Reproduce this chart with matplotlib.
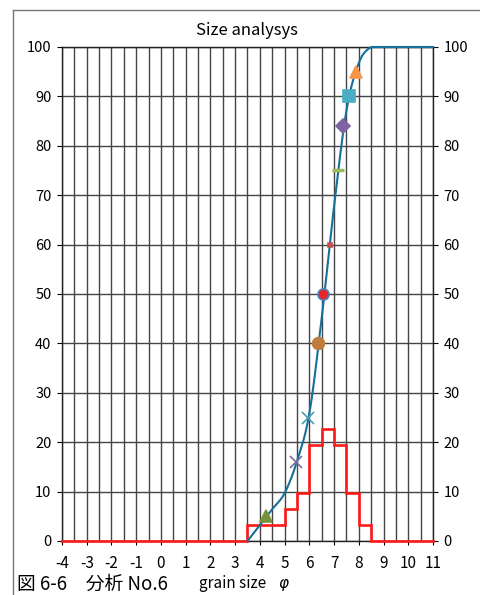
import numpy as np
import matplotlib
matplotlib.use("Agg")
import matplotlib.pyplot as plt
from matplotlib.lines import Line2D

plt.rcParams['font.family'] = ['Noto Sans CJK JP', 'DejaVu Sans']
plt.rcParams['axes.unicode_minus'] = False

# histogram (% per 0.5 phi bin), bins starting at these left edges
bin_left = [3.5, 4.0, 4.5, 5.0, 5.5, 6.0, 6.5, 7.0, 7.5, 8.0]
bin_pct = [3.23, 3.23, 3.23, 6.45, 9.68, 19.35, 22.58, 19.35, 9.68, 3.23]

# cumulative curve points
cum_x = [3.5, 4.0, 4.5, 5.0, 5.5, 6.0, 6.5, 7.0, 7.5, 8.0, 8.5, 9.0, 9.5, 10.0, 10.5, 11.0]
cum_y = [0, 3.23, 6.45, 9.68, 16.13, 25.81, 45.16, 67.74, 87.10, 96.77, 100, 100, 100, 100, 100, 100]

# percentile markers
pct_x = [4.25, 5.46, 5.96, 6.34, 6.57, 6.84, 7.15, 7.38, 7.60, 7.88]
pct_y = [5, 16, 25, 40, 50, 60, 75, 84, 90, 95]
pct_marker = ['^', 'x', 'x', 'o', 'o', 's', '_', 'D', 's', '^']
pct_face = ['#77933C', '#7F6A9E', '#4A9BB3', '#C07C3C', '#E8262A', '#C0504D',
            '#9BBB59', '#8064A2', '#4BACC6', '#F79646']
pct_edge = ['#77933C', '#7F6A9E', '#4A9BB3', '#C07C3C', '#4F81BD', '#C0504D',
            '#9BBB59', '#8064A2', '#4BACC6', '#F79646']
pct_size = [8, 8, 8, 8.5, 8, 3, 8, 7, 8, 8]


def smooth(xs, ys, n=30):
    # catmull-rom like Excel smoothed lines
    xs = np.asarray(xs, float); ys = np.asarray(ys, float)
    px = np.concatenate([[xs[0]], xs, [xs[-1]]])
    py = np.concatenate([[ys[0]], ys, [ys[-1]]])
    ox, oy = [], []
    t = np.linspace(0, 1, n)
    for i in range(1, len(px) - 2):
        for arr, out in ((px, ox), (py, oy)):
            p0, p1, p2, p3 = arr[i - 1], arr[i], arr[i + 1], arr[i + 2]
            out.extend(0.5 * (2 * p1 + (-p0 + p2) * t + (2 * p0 - 5 * p1 + 4 * p2 - p3) * t ** 2
                              + (-p0 + 3 * p1 - 3 * p2 + p3) * t ** 3))
    return np.array(ox), np.clip(np.array(oy), 0, 100)


W, H = 481, 595
fig = plt.figure(figsize=(W / 100, H / 100), dpi=100)
ax = fig.add_axes([62 / W, 1 - 541 / H, (433 - 62) / W, (541 - 47) / H])

ax.set_xlim(-4, 11)
ax.set_ylim(0, 100)
ax.set_xticks(np.arange(-4, 12, 1))
ax.set_xticks(np.arange(-4, 11.5, 0.5), minor=True)
ax.set_yticks(np.arange(0, 101, 10))
ax.grid(True, which='both', axis='x', color='#444444', lw=1)
ax.grid(True, which='major', axis='y', color='#444444', lw=1)
ax.set_axisbelow(True)
for s in ax.spines.values():
    s.set_color('#222222')
    s.set_linewidth(1)

ax.tick_params(axis='y', which='major', left=True, right=True, labelleft=True,
               labelright=True, length=3.5, width=0.8, pad=4, labelsize=10.5)
ax.tick_params(axis='x', which='major', length=3, width=0.8, pad=7, labelsize=11)
ax.tick_params(axis='x', which='minor', length=0)

# histogram as steps
sx, sy = [-4, bin_left[0]], [0, 0]
for b, v in zip(bin_left, bin_pct):
    sx += [b, b + 0.5]
    sy += [v, v]
sx += [bin_left[-1] + 0.5, 11]
sy += [0, 0]
ax.plot(sx, sy, color='#FF1A1A', lw=1.9, zorder=3, clip_on=False, solid_joinstyle='miter')

cx, cy = smooth(cum_x, cum_y)
ax.plot(cx, cy, color='#15709B', lw=1.5, zorder=4, clip_on=False)

for x, y, m, fc, ec, s in zip(pct_x, pct_y, pct_marker, pct_face, pct_edge, pct_size):
    if m == 'x':
        ax.plot(x, y, marker=m, color=fc, ms=s, mew=1.2, ls='none', zorder=5)
    elif m == '_':
        ax.plot(x, y, marker=m, color=fc, ms=s, mew=2.5, ls='none', zorder=5)
    else:
        ax.plot(x, y, marker=m, mfc=fc, mec=ec, ms=s, mew=1.2, ls='none', zorder=5)

fig.text(246.5 / W, 1 - 35 / H, 'Size analysys', ha='center', va='baseline', fontsize=12)
fig.text(17 / W, 1 - 590 / H, '図 6-6\u3000分析 No.6', ha='left', va='baseline', fontsize=13.5)
fig.text(199 / W, 1 - 588 / H, 'grain size', ha='left', va='baseline', fontsize=11)
fig.text(278 / W, 1 - 588 / H, '\u03c6', ha='left', va='baseline', fontsize=11,
         family='DejaVu Sans', style='italic')

# outer frame (top and left)
fig.add_artist(Line2D([13 / W, 1], [1 - 10 / H, 1 - 10 / H], color='#777777', lw=1))
fig.add_artist(Line2D([13 / W, 13 / W], [1 - 10 / H, 0], color='#777777', lw=1))

fig.savefig('out.png', dpi=100)
